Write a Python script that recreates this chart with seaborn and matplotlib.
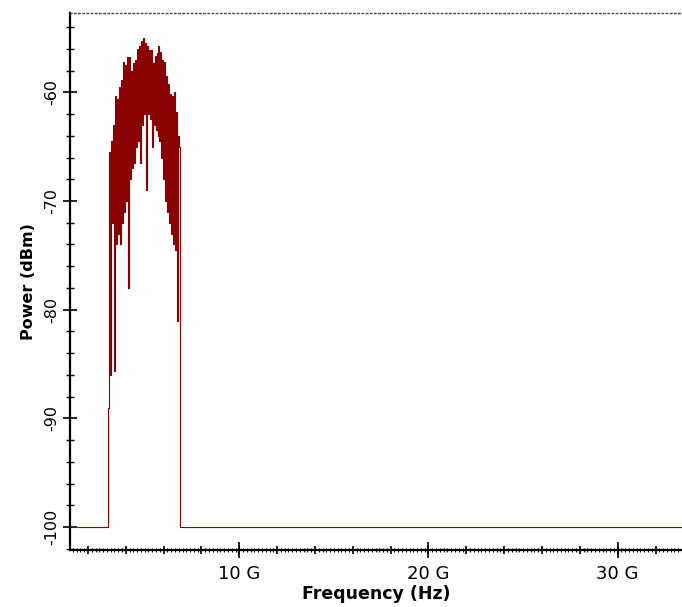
import numpy as np
import pandas as pd
import matplotlib
matplotlib.use("Agg")
import matplotlib.pyplot as plt
import matplotlib.ticker as mticker
import seaborn as sns

# spectrum (frequency in Hz, power in dBm)
floor_dbm = -100.0
f_start = 1.05e9
f_stop = 33.4e9
band_lo = 3.08e9          # first rising edge
band_first = 3.13e9       # first sample inside the band
band_last = 6.82e9        # last sample inside the band
band_hi = 6.87e9          # falling edge back to the floor
edge_dbm = -89.0
band_power = [
    -65.5, -86.0, -64.5, -72.0, -63.0, -85.6, -60.3, -74.0, -60.6, -73.0,
    -59.5, -74.0, -58.9, -72.0, -57.2, -71.0, -57.5, -70.0, -56.8, -78.0,
    -56.8, -68.0, -58.0, -67.0, -57.3, -66.5, -57.0, -65.0, -56.0, -64.5,
    -55.7, -66.5, -55.3, -63.0, -55.0, -62.0, -55.5, -69.0, -55.7, -62.0,
    -56.1, -62.5, -56.1, -65.0, -57.3, -63.0, -56.7, -63.5, -56.4, -64.0,
    -55.7, -64.5, -56.3, -66.0, -57.0, -68.0, -57.2, -70.0, -58.5, -71.0,
    -59.2, -72.0, -60.2, -73.0, -60.3, -74.0, -60.0, -74.5, -61.8, -81.0,
    -64.0, -65.0,
]

band_freq = np.linspace(band_first, band_last, len(band_power))
freq = np.concatenate([[f_start, band_lo], band_freq, [band_hi, f_stop]])
power = np.concatenate([[floor_dbm, edge_dbm], band_power, [floor_dbm, floor_dbm]])
df = pd.DataFrame({"freq": freq, "power": power})

sns.set_theme(style="white")
plt.rcParams["font.family"] = ["DejaVu Sans"]
plt.rcParams["text.color"] = "black"
plt.rcParams["axes.labelcolor"] = "black"
plt.rcParams["xtick.color"] = "black"
plt.rcParams["ytick.color"] = "black"

fig = plt.figure(figsize=(6.82, 6.07), dpi=100)
ax = fig.add_axes([0.1026, 0.094, 0.8974, 0.8847])

sns.lineplot(data=df, x="freq", y="power", ax=ax, estimator=None, sort=False,
             drawstyle="steps-post", color="#8b0000", linewidth=0.8)

ax.set_xlim(f_start, f_stop)
ax.set_ylim(-102.1, -52.7)

for s in ["left", "bottom"]:
    ax.spines[s].set_color("black")
    ax.spines[s].set_linewidth(1.6)
ax.spines["right"].set_visible(False)
ax.spines["top"].set_color("#444444")
ax.spines["top"].set_linewidth(1.0)
ax.spines["top"].set_linestyle((0, (1, 2)))

# x ticks
ax.xaxis.set_major_locator(mticker.MultipleLocator(2e9))
ax.xaxis.set_minor_locator(mticker.MultipleLocator(0.2e9))
ax.xaxis.set_major_formatter(mticker.FuncFormatter(
    lambda v, p: f"{v/1e9:.0f} G" if abs(v/1e10 - round(v/1e10)) < 1e-6 else ""))
ax.tick_params(axis="both", which="both", bottom=True, left=True, top=False, right=False)
ax.tick_params(axis="x", which="major", direction="inout", length=6, width=1.2,
               color="black", labelcolor="black", labelsize=13, pad=8)
ax.tick_params(axis="x", which="minor", direction="inout", length=2.5, width=0.8,
               color="black")
sec = ax.secondary_xaxis("bottom")
sec.set_xticks([10e9, 20e9, 30e9])
sec.set_xticklabels([])
sec.tick_params(bottom=True, direction="inout", length=12, width=1.2, color="black")
sec.spines["bottom"].set_visible(False)

# y ticks
ax.yaxis.set_major_locator(mticker.MultipleLocator(10))
ax.yaxis.set_minor_locator(mticker.MultipleLocator(2))
ax.yaxis.set_major_formatter(mticker.FuncFormatter(lambda v, p: f"{v:.0f}"))
ax.tick_params(axis="y", which="major", direction="inout", length=10, width=1.2,
               color="black", labelcolor="black", labelsize=11.5, pad=3)
ax.tick_params(axis="y", which="minor", direction="inout", length=6, width=1.0,
               color="black")
for lab in ax.get_yticklabels():
    lab.set_rotation(90)
    lab.set_va("center")

ax.set_xlabel("Frequency (Hz)", fontsize=12.5, fontweight="bold", labelpad=1,
              color="black")
ax.set_ylabel("Power (dBm)", fontsize=11.5, fontweight="bold", labelpad=6,
              color="black")
ax.grid(False)

fig.savefig("out.png", dpi=100)
